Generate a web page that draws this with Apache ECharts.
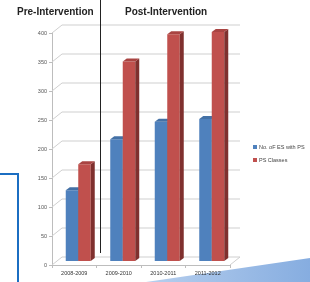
<!DOCTYPE html>
<html>
<head>
<meta charset="utf-8">
<script src="https://cdn.jsdelivr.net/npm/echarts@6/dist/echarts.min.js"></script>
<style>
  html, body { margin: 0; padding: 0; background: #fff; }
  #main { width: 310px; height: 282px; }
</style>
</head>
<body>
<div id="main"></div>
<script>
// 数据
const years = ['2008-2009', '2009-2010', '2010-2011', '2011-2012'];
const esWithPs = [122, 210, 240, 245];
const psClasses = [167, 344, 391, 395];
const yTicks = [0, 50, 100, 150, 200, 250, 300, 350, 400];

const DX = 10, DY = 8;   // 3D 深度
const BW = 12.5;         // 柱宽

let myChart = echarts.init(document.getElementById('main'));

// 3D 柱子
function bar3d(side, front, sideColor, topColor) {
    return function (params, api) {
        let i = api.value(0);
        let top = api.coord([i, api.value(1)]);
        let base = api.coord([i, 0]);
        let cx = top[0] + DX / 2 - 1;
        let x0 = side === 'left' ? cx - BW : cx;
        let x1 = x0 + BW;
        let yt = top[1] - DY / 2;
        let yb = base[1] - DY / 2;
        let d = 4, h = 3;
        return {
            type: 'group',
            children: [
                { type: 'rect', shape: { x: x0, y: yt, width: BW, height: yb - yt }, style: { fill: front } },
                { type: 'polygon', shape: { points: [[x1, yt], [x1 + d, yt - h], [x1 + d, yb - h], [x1, yb]] }, style: { fill: sideColor } },
                { type: 'polygon', shape: { points: [[x0, yt], [x0 + d, yt - h], [x1 + d, yt - h], [x1, yt]] }, style: { fill: topColor } }
            ]
        };
    };
}

let option = {
    animation: false,
    textStyle: { fontFamily: 'Liberation Sans' },
    legend: {
        orient: 'vertical',
        left: 248,
        top: 139,
        icon: 'rect',
        itemWidth: 4,
        itemHeight: 4,
        itemGap: 7,
        textStyle: { fontSize: 5.5, color: '#444', padding: [0, 0, 0, -3] },
        data: ['No. oF ES with PS', 'PS Classes']
    },
    grid: { left: 52, top: 33, width: 178, height: 232 },
    xAxis: {
        type: 'category',
        data: years,
        z: 20,
        axisLine: { lineStyle: { color: '#bdbdbd' } },
        axisTick: { show: true, length: 3, lineStyle: { color: '#bdbdbd' } },
        axisLabel: { fontSize: 5.5, color: '#333', margin: 5, interval: 0 }
    },
    yAxis: {
        type: 'value',
        min: 0,
        max: 400,
        interval: 50,
        axisLine: { show: true, lineStyle: { color: '#bdbdbd' } },
        axisTick: { show: true, length: 3, lineStyle: { color: '#bdbdbd' } },
        splitLine: { show: false },
        axisLabel: { fontSize: 5.5, color: '#555', margin: 5 }
    },
    graphic: [
        { type: 'text', left: 17, top: 7, style: { text: 'Pre-Intervention', font: 'bold 10px Liberation Sans', fill: '#222' } },
        { type: 'text', left: 125, top: 7, style: { text: 'Post-Intervention', font: 'bold 10px Liberation Sans', fill: '#222' } },
        { type: 'line', shape: { x1: 100.5, y1: 0, x2: 100.5, y2: 253 }, style: { stroke: '#222', lineWidth: 1 }, z: 10 },
        { type: 'polyline', shape: { points: [[0, 174], [18, 174], [18, 282]] }, style: { stroke: '#1b6ec2', lineWidth: 2, fill: null } },
        {
            type: 'polygon', shape: { points: [[146, 282], [310, 258], [310, 282]] },
            style: {
                fill: new echarts.graphic.LinearGradient(0, 0, 1, 0, [
                    { offset: 0, color: '#b7cfee' },
                    { offset: 1, color: '#86ade0' }
                ])
            }, z: -1
        }
    ],
    series: [
        {
            // 背景网格线
            type: 'custom',
            silent: true,
            z: 1,
            data: yTicks.map(v => [0, v]),
            renderItem: function (params, api) {
                let cs = params.coordSys;
                let y = api.coord([0, api.value(1)])[1];
                let pts = [[cs.x, y], [cs.x + DX, y - DY], [cs.x + cs.width + DX, y - DY]];
                if (api.value(1) === 0) pts.push([cs.x + cs.width, y]);
                return { type: 'polyline', shape: { points: pts }, style: { stroke: '#cfcfcf', lineWidth: 1, fill: null } };
            }
        },
        {
            name: 'No. oF ES with PS',
            type: 'custom',
            z: 3,
            itemStyle: { color: '#4f81bd' },
            data: esWithPs.map((v, i) => [i, v]),
            renderItem: bar3d('left', '#4f81bd', '#385d8a', '#4471a6')
        },
        {
            name: 'PS Classes',
            type: 'custom',
            z: 3,
            itemStyle: { color: '#c0504d' },
            data: psClasses.map((v, i) => [i, v]),
            renderItem: bar3d('right', '#c0504d', '#7f302e', '#a94442')
        }
    ]
};
myChart.setOption(option);
</script>
</body>
</html>
